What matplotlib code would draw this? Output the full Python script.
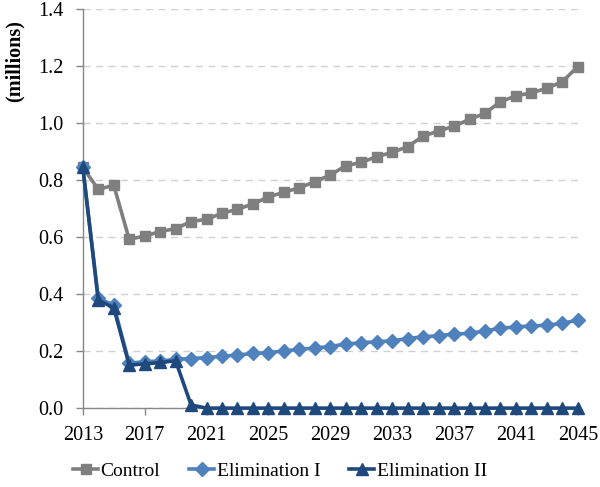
import matplotlib
matplotlib.use("Agg")
import matplotlib.pyplot as plt
import numpy as np

years = list(range(2013, 2046))
control = [0.845, 0.767, 0.782, 0.592, 0.604, 0.619, 0.630, 0.654, 0.663, 0.683,
           0.698, 0.716, 0.741, 0.757, 0.773, 0.794, 0.818, 0.850, 0.862, 0.882,
           0.897, 0.917, 0.954, 0.972, 0.989, 1.013, 1.034, 1.075, 1.095, 1.106,
           1.122, 1.145, 1.198]
elim1 = [0.845, 0.385, 0.361, 0.157, 0.163, 0.165, 0.171, 0.174, 0.177, 0.182,
         0.186, 0.192, 0.194, 0.201, 0.206, 0.211, 0.216, 0.225, 0.229, 0.233,
         0.236, 0.244, 0.250, 0.254, 0.260, 0.262, 0.271, 0.280, 0.285, 0.288,
         0.291, 0.297, 0.309]
elim2 = [0.845, 0.379, 0.352, 0.151, 0.155, 0.160, 0.166, 0.011] + [0.0] * 25
series_names = ["Control", "Elimination I", "Elimination II"]
xtick_years = list(range(2013, 2046, 4))
yticks = [0.0, 0.2, 0.4, 0.6, 0.8, 1.0, 1.2, 1.4]

plt.rcParams['font.family'] = 'serif'
plt.rcParams['font.serif'] = ['Liberation Serif', 'DejaVu Serif']

fig = plt.figure(figsize=(6, 4.87), dpi=100)
ax = fig.add_axes([0.138, 0.162, 0.825, 0.8195])

axis_col = "#868686"
ax.plot(years, control, color="#7f7f7f", lw=2.6, marker="s", ms=7.5,
        label=series_names[0], clip_on=False, zorder=3)
ax.plot(years, elim1, color="#4f81bd", lw=2.6, marker="D", ms=7.5,
        label=series_names[1], clip_on=False, zorder=4)
ax.plot(years, elim2, color="#1f497d", lw=2.6, marker="^", ms=9,
        label=series_names[2], clip_on=False, zorder=5)

ax.set_xlim(2013, 2045)
ax.set_ylim(0, 1.4)
ax.set_xticks(xtick_years)
ax.set_xticklabels([str(y) for y in xtick_years])
ax.set_yticks(yticks)
ax.set_yticklabels([f"{v:.1f}" for v in yticks])
ax.tick_params(axis='both', labelsize=14.5, colors=axis_col, length=5,
               width=1, labelcolor="black", direction="out")
ax.tick_params(axis='x', pad=8)
ax.tick_params(axis='y', pad=9)

for s in ["top", "right"]:
    ax.spines[s].set_visible(False)
for s in ["left", "bottom"]:
    ax.spines[s].set_color(axis_col)
    ax.spines[s].set_linewidth(1)

ax.yaxis.grid(True, color="#d0d0d0", linestyle=(0, (5, 4)), lw=1)
ax.set_axisbelow(True)

fig.text(0.025, 0.875, "(millions)", rotation=90, fontsize=14.5,
         fontweight="bold", ha="center", va="center")

leg = fig.legend(loc="center", bbox_to_anchor=(0.467, 0.032), ncol=3,
                 frameon=False, fontsize=14, handlelength=1.25,
                 columnspacing=1.5, handletextpad=0.15)

fig.savefig("out.png", dpi=100)
